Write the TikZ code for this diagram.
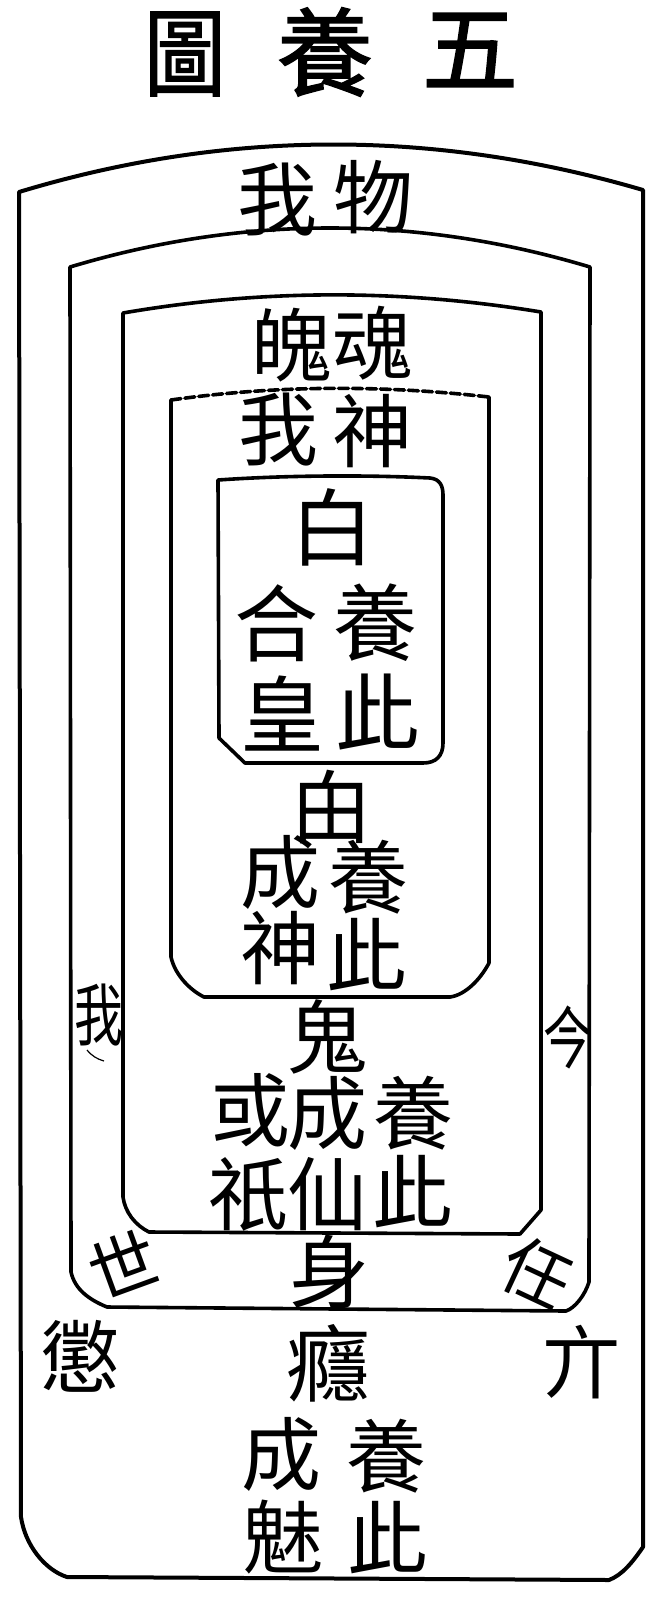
\documentclass[tikz,border=0pt]{standalone}
\usepackage{fontspec}
\newfontfamily\cjk{Noto Sans CJK TC}
\newfontfamily\cjkbold[FakeBold=1.6]{Noto Sans CJK TC}
\begin{document}
\begin{tikzpicture}[x=0.5pt,y=-0.5pt,
  box/.style={line width=1.8pt, line join=round, line cap=round},
  ch/.style={font=\cjk\fontsize{40}{40}\selectfont, inner sep=0pt},
  chb/.style={font=\cjk\fontsize{42}{42}\selectfont, inner sep=0pt},
  chs/.style={font=\cjk\fontsize{34}{34}\selectfont, inner sep=0pt},
  ttl/.style={font=\cjkbold\fontsize{48}{48}\selectfont, inner sep=0pt}]
\useasboundingbox[fill=white] (0,0) rectangle (666,1601);

% outer box
\draw[box, line width=2pt] (19,192) .. controls (227,129) and (435,129) .. (643,190)
  -- (643,1547) .. controls (632,1563) and (622,1575) .. (609,1580)
  -- (67,1577) .. controls (45,1570) and (25,1545) .. (21,1517) -- cycle;
% box 2
\draw[box] (70,267) .. controls (243,215) and (417,215) .. (590,267)
  -- (589,1282) .. controls (585,1295) and (575,1308) .. (566,1311)
  -- (107,1307) .. controls (90,1300) and (75,1290) .. (71,1272) -- cycle;
% box 3
\draw[box] (123,313) .. controls (262,289) and (401,289) .. (541,312)
  -- (541,1210) -- (520,1234) -- (149,1232)
  .. controls (135,1225) and (125,1212) .. (123,1197) -- cycle;
% box 4
\draw[box, dash pattern=on 5pt off 2pt] (171,400) .. controls (277,385) and (383,385) .. (489,397);
\draw[box] (489,397) -- (489,963) .. controls (480,980) and (465,995) .. (450,997)
  -- (204,997) .. controls (190,990) and (175,975) .. (171,957) -- (171,400);
% box 5
\draw[box] (218,480) .. controls (290,475) and (370,475) .. (430,478)
  .. controls (440,479) and (443,486) .. (443,495) -- (443,743)
  .. controls (443,756) and (436,763) .. (423,763) -- (245,763) -- (219,738) -- cycle;
% small arc
\draw[line width=0.6pt] (87,1050) .. controls (92,1056) and (97,1059) .. (104,1061);

% title
\node[ttl] (t1) at (185,54) {\scalebox{0.85}[1]{圖}};
\node[ttl] (t2) at (325,52) {養};
\node[ttl] (t3) at (470,50) {五};

\node[ch] (a1) at (277,200) {我};
\node[ch] (a2) at (373,197) {物};
\node[ch] (b1) at (291,345) {魄};
\node[ch] (b2) at (372,343) {魂};
\node[ch] (c1) at (278,430) {我};
\node[ch] (c2) at (372,431) {神};
\node[chb] (d0) at (332,527) {白};
\node[chb] (d1) at (276,623) {合};
\node[chb] (d2) at (375,623) {養};
\node[chb] (d3) at (282,714) {皇};
\node[chb] (d4) at (377,712) {此};
\node[ch] (e0) at (331,807) {甶};
\node[ch] (e1) at (280,872) {成};
\node[ch] (e2) at (368,877) {養};
\node[ch] (e3) at (280,948) {神};
\node[ch] (e4) at (366,955) {此};
\node[ch] (f0) at (327,1037) {鬼};
\node[ch] (f1) at (250,1110) {或};
\node[ch] (f2) at (327,1113) {成};
\node[ch] (f3) at (413,1113) {養};
\node[ch] (f4) at (248,1194) {祇};
\node[ch] (f5) at (327,1194) {仙};
\node[ch] (f6) at (412,1192) {此};
\node[ch] (g0) at (329,1272) {身};
\node[chb] (h0) at (328,1363) {癮};
\node[ch] (h1) at (281,1454) {成};
\node[ch] (h2) at (386,1456) {養};
\node[ch] (h3) at (283,1537) {魅};
\node[ch] (h4) at (387,1538) {此};

% margin characters
\node[chs] (m1) at (99,1015) {\scalebox{0.72}[1]{我}};
\node[chs] (m2) at (568,1037) {\scalebox{0.72}[1]{今}};
\node[chs, rotate=20] (m3) at (123,1264) {世};
\node[chs, rotate=-25] (m4) at (537,1273) {任};
\node[ch] (m5) at (80,1356) {懲};
\node[ch] (m6) at (581,1362) {亣};
\end{tikzpicture}
\end{document}
